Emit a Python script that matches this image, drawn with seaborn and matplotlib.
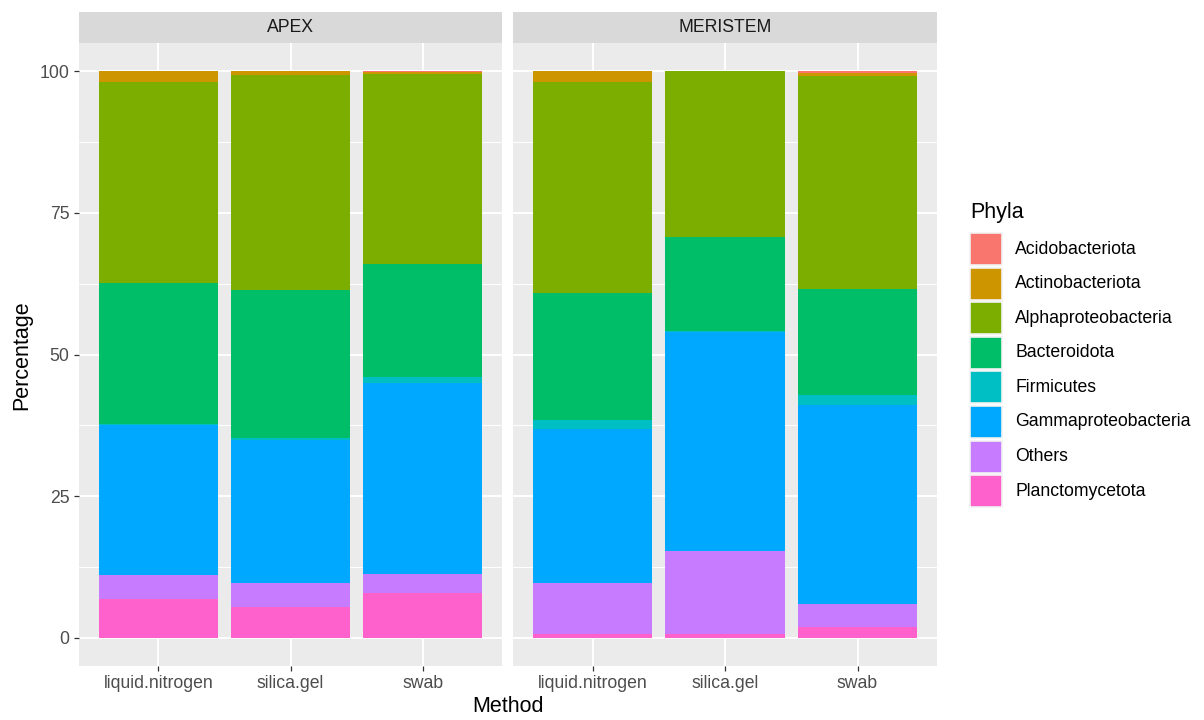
import matplotlib
matplotlib.use("Agg")
import matplotlib.pyplot as plt
from matplotlib.patches import Rectangle
from matplotlib.ticker import MultipleLocator
import numpy as np
import pandas as pd
import seaborn as sns

# ---- data -------------------------------------------------------------
methods = ["liquid.nitrogen", "silica.gel", "swab"]
tissues = ["APEX", "MERISTEM"]
phyla = ["Acidobacteriota", "Actinobacteriota", "Alphaproteobacteria",
         "Bacteroidota", "Firmicutes", "Gammaproteobacteria", "Others",
         "Planctomycetota"]
phyla_colors = ["#F8766D", "#CD9600", "#7CAE00", "#00BE67", "#00BFC4",
                "#00A9FF", "#C77CFF", "#FF61CC"]

# percentage per phylum, one list per (tissue, method), in `phyla` order
apex_liquid_nitrogen = [0.0, 1.9, 35.4, 24.9, 0.3, 26.4, 4.2, 6.9]
apex_silica_gel      = [0.0, 0.6, 38.0, 26.2, 0.3, 25.3, 4.2, 5.4]
apex_swab            = [0.1, 0.4, 33.5, 20.0, 1.1, 33.6, 3.4, 7.9]
meri_liquid_nitrogen = [0.0, 1.8, 37.3, 22.5, 1.6, 27.1, 9.1, 0.6]
meri_silica_gel      = [0.0, 0.0, 29.2, 16.6, 0.2, 38.7, 14.7, 0.6]
meri_swab            = [0.3, 0.6, 37.6, 18.7, 1.7, 35.2, 4.0, 1.9]

values = {
    ("APEX", "liquid.nitrogen"): apex_liquid_nitrogen,
    ("APEX", "silica.gel"): apex_silica_gel,
    ("APEX", "swab"): apex_swab,
    ("MERISTEM", "liquid.nitrogen"): meri_liquid_nitrogen,
    ("MERISTEM", "silica.gel"): meri_silica_gel,
    ("MERISTEM", "swab"): meri_swab,
}

rows = []
for (tissue, method), vals in values.items():
    for ph, v in zip(phyla, vals):
        rows.append({"Tissue": tissue, "Method": method, "Phyla": ph,
                     "Percentage": v})
df = pd.DataFrame(rows)
df["Phyla"] = pd.Categorical(df["Phyla"], categories=phyla, ordered=True)
df = df.sort_values(["Tissue", "Method", "Phyla"])
# stack from the bottom (last level) upward, so the first level sits on top
df["Top"] = (df.iloc[::-1].groupby(["Tissue", "Method"], observed=True)
             ["Percentage"].cumsum().iloc[::-1])

# ---- style ------------------------------------------------------------
sns.set_theme(style="white")
plt.rcParams["font.family"] = ["Liberation Sans", "DejaVu Sans"]

W, H = 1204, 720
fig = plt.figure(figsize=(W / 100, H / 100), dpi=100)
fig.patch.set_facecolor("white")

panel_bg = "#EBEBEB"
strip_bg = "#D9D9D9"
tick_col = "#4D4D4D"
small_fs = 12.7
title_fs = 15.5

panels = {"APEX": (79, 502), "MERISTEM": (513, 937)}
ptop, pbot = 43, 666
strip_top = 12


def fig_rect(x0, x1, ytop, ybot):
    return [x0 / W, 1 - ybot / H, (x1 - x0) / W, (ybot - ytop) / H]


for i, tissue in enumerate(tissues):
    x0, x1 = panels[tissue]
    ax = fig.add_axes(fig_rect(x0, x1, ptop, pbot))
    ax.set_facecolor(panel_bg)
    sub = df[df["Tissue"] == tissue]
    # draw the cumulative tops from tallest to shortest so layers overlap
    for ph, col in zip(phyla, phyla_colors):
        layer = sub[sub["Phyla"] == ph]
        sns.barplot(data=layer, x="Method", y="Top", order=methods,
                    color=col, saturation=1, width=0.9, errorbar=None,
                    linewidth=0, ax=ax, zorder=3)
    ax.set_xlim(-0.6, 2.6)
    ax.set_ylim(-5, 105)
    ax.yaxis.set_major_locator(MultipleLocator(25))
    ax.yaxis.set_minor_locator(MultipleLocator(12.5))
    ax.grid(which="major", color="white", linewidth=1.4, zorder=0)
    ax.grid(which="minor", axis="y", color="white", linewidth=0.7, zorder=0)
    ax.set_axisbelow(True)
    for s in ax.spines.values():
        s.set_visible(False)
    ax.set_xlabel("")
    ax.set_ylabel("")
    ax.tick_params(axis="both", which="major", length=3.8, width=0.9,
                   color="#333333", labelcolor=tick_col, labelsize=small_fs,
                   pad=3, bottom=True, left=True)
    ax.tick_params(axis="both", which="minor", length=0)
    if i > 0:
        ax.tick_params(axis="y", which="major", length=0, labelleft=False)

    # facet strip
    sax = fig.add_axes(fig_rect(x0, x1, strip_top, ptop))
    sax.set_facecolor(strip_bg)
    sax.set_xticks([])
    sax.set_yticks([])
    for s in sax.spines.values():
        s.set_visible(False)
    sax.text(0.5, 0.5, tissue, ha="center", va="center", fontsize=small_fs,
             color="#1A1A1A", transform=sax.transAxes)

# axis titles
fig.text(508 / W, 1 - 707 / H, "Method", ha="center", va="center",
         fontsize=title_fs, color="black")
fig.text(22 / W, 1 - 355 / H, "Percentage", ha="center", va="center",
         rotation=90, fontsize=title_fs, color="black")

# legend
fig.text(970 / W, 1 - 212 / H, "Phyla", ha="left", va="center",
         fontsize=title_fs, color="black")
key_w, key_h, step = 32, 32, 34.6
y_first = 233
for k, (ph, col) in enumerate(zip(phyla, phyla_colors)):
    yt = y_first + k * step
    fig.patches.append(Rectangle((970 / W, 1 - (yt + key_h) / H),
                                 key_w / W, key_h / H,
                                 transform=fig.transFigure,
                                 facecolor=col, edgecolor="#F2F2F2",
                                 linewidth=1.2))
    fig.text(1015 / W, 1 - (yt + key_h / 2) / H, ph, ha="left",
             va="center", fontsize=small_fs, color="black")

fig.savefig("out.png", dpi=100)
